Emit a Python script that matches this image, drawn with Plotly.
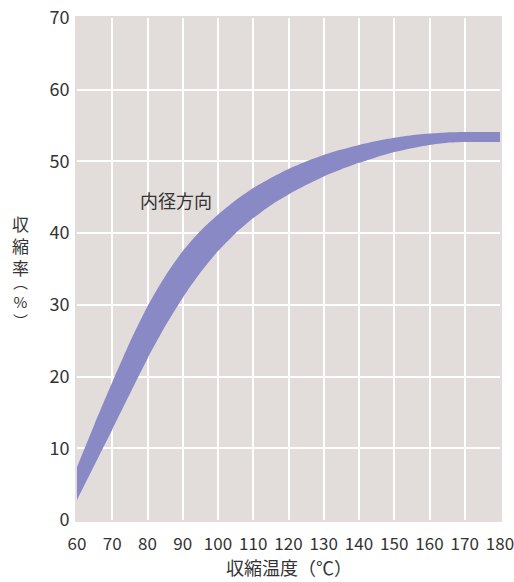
import plotly.graph_objects as go

temps = [60, 65, 70, 75, 80, 85, 90, 95, 100, 105, 110, 115, 120, 125, 130, 135, 140, 145, 150, 155, 160, 165, 170, 175, 180]
upper = [7.4, 13.4, 19.2, 24.8, 29.8, 34.0, 37.5, 40.3, 42.6, 44.6, 46.3, 47.7, 48.95, 50.0, 50.9, 51.65, 52.3, 52.85, 53.3, 53.65, 53.9, 54.05, 54.1, 54.1, 54.1]
lower = [2.8, 7.7, 12.6, 17.6, 22.5, 27.0, 31.0, 34.5, 37.5, 40.0, 42.1, 43.9, 45.4, 46.7, 47.9, 48.9, 49.8, 50.6, 51.3, 51.85, 52.3, 52.6, 52.7, 52.7, 52.7]

x_ticks = [60, 70, 80, 90, 100, 110, 120, 130, 140, 150, 160, 170, 180]
y_ticks = [0, 10, 20, 30, 40, 50, 60, 70]
band_label = "内径方向"
x_title = "収縮温度（℃）"
y_title_main = "収<br>縮<br>率"
y_title_unit = "︵<br>%<br>︶"

BAND = "#8889c5"
BG = "#e2dddb"
TXT = "#333333"
FONT = "Noto Sans CJK JP"

fig = go.Figure()
fig.add_trace(go.Scatter(x=temps, y=lower, mode="lines",
                         line=dict(width=0, color=BAND, shape="spline", smoothing=0.6),
                         hoverinfo="skip", showlegend=False))
fig.add_trace(go.Scatter(x=temps, y=upper, mode="lines",
                         line=dict(width=0, color=BAND, shape="spline", smoothing=0.6),
                         fill="tonexty", fillcolor=BAND, hoverinfo="skip", showlegend=False))

fig.add_annotation(x=88.2, y=44.6, text=band_label, showarrow=False, xref="x", yref="y",
                   font=dict(family=FONT, size=18, color=TXT))

fig.add_annotation(x=0.5, y=0, xref="paper", yref="paper", yshift=-47, yanchor="middle",
                   text=x_title, showarrow=False, font=dict(family=FONT, size=18, color=TXT))

fig.add_annotation(x=0, y=1, xref="paper", yref="paper", xshift=-57, yshift=-(245 - 18),
                   xanchor="center", yanchor="middle", text=y_title_main, showarrow=False,
                   borderpad=0, font=dict(family=FONT, size=17, color=TXT))
fig.add_annotation(x=0, y=1, xref="paper", yref="paper", xshift=-57, yshift=-(301 - 18),
                   xanchor="center", yanchor="middle", text=y_title_unit, showarrow=False,
                   borderpad=0, font=dict(family=FONT, size=15, color=TXT))

fig.update_layout(
    width=514, height=582,
    margin=dict(l=77, r=14, t=18, b=62, autoexpand=False),
    paper_bgcolor="white", plot_bgcolor=BG,
    font=dict(family=FONT, size=18, color=TXT),
)
fig.update_xaxes(range=[60, 180], tickvals=x_ticks, ticktext=[str(v) for v in x_ticks],
                 showgrid=True, gridcolor="white", gridwidth=2, zeroline=False,
                 showline=True, linecolor=BG, linewidth=2, mirror=True, automargin=False,
                 ticks="", ticklabelstandoff=8, ticklabeloverflow="allow",
                 tickfont=dict(family=FONT, size=17, color=TXT))
fig.update_yaxes(range=[0, 70], tickvals=y_ticks, ticktext=[str(v) for v in y_ticks],
                 showgrid=True, gridcolor="white", gridwidth=2, zeroline=False,
                 showline=True, linecolor=BG, linewidth=2, mirror=True, automargin=False,
                 ticks="", ticklabelstandoff=2, ticklabeloverflow="allow",
                 tickfont=dict(family=FONT, size=18, color=TXT))

fig.write_html("out.html", config={"displayModeBar": False},
               post_script="document.body.style.margin='0';document.body.style.padding='0';")
